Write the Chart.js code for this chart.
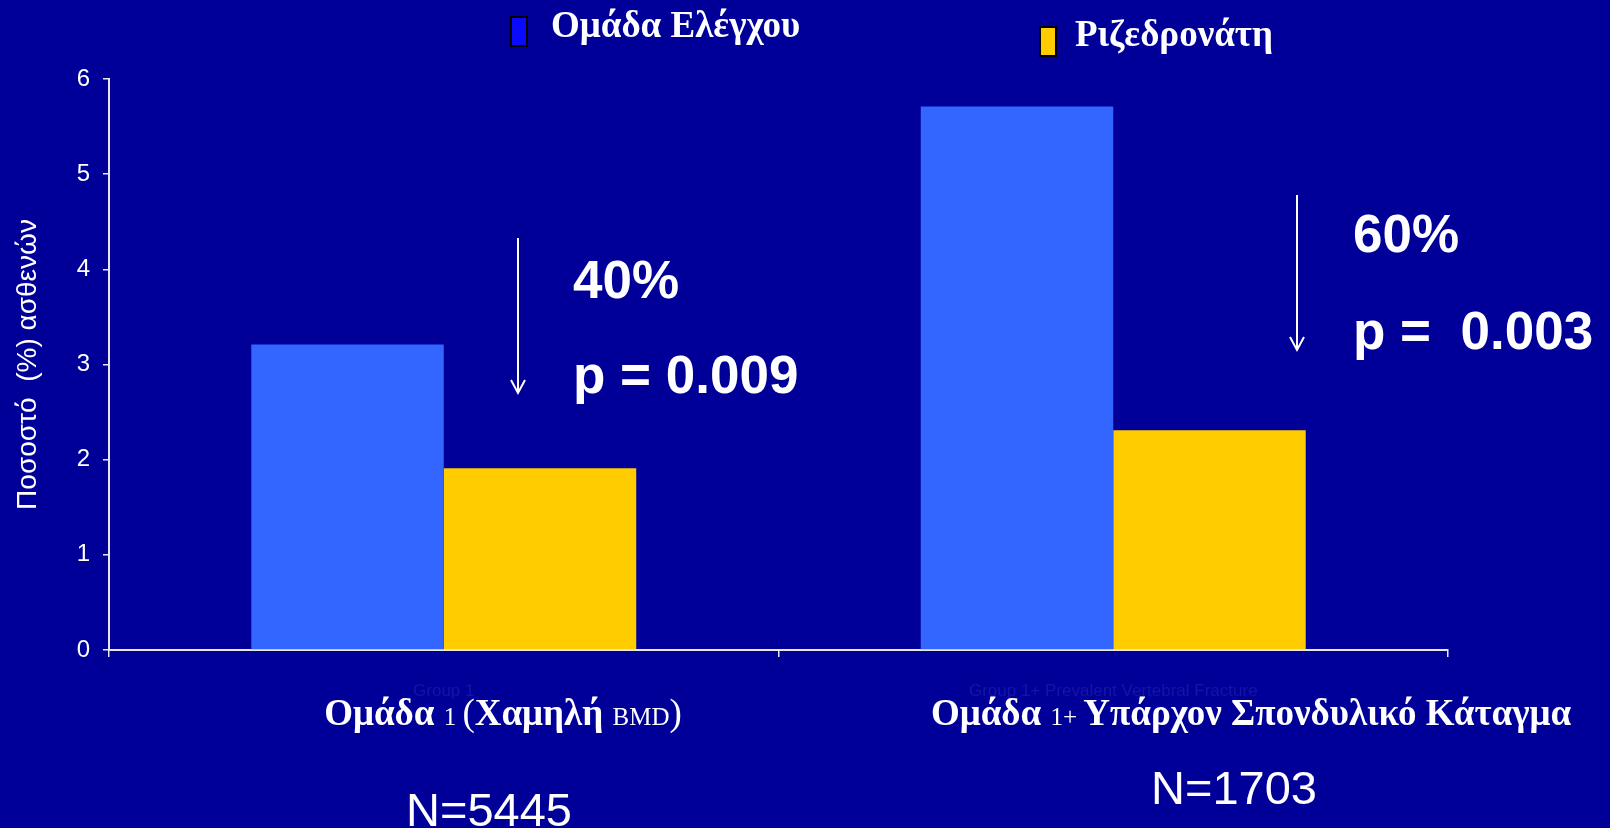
<!DOCTYPE html>
<html>
<head>
<meta charset="utf-8">
<script src="https://cdn.jsdelivr.net/npm/chart.js@4.4.1/dist/chart.umd.min.js"></script>
<style>
  html, body { margin: 0; padding: 0; background: #000099; }
  #chart { display: block; }
</style>
</head>
<body>
<canvas id="chart" width="1610" height="828"></canvas>
<script>
const categories = ['Group 1', 'Group 1+ Prevalent Vertebral Fracture'];
const seriesNames = ['Ομάδα Ελέγχου', 'Ριζεδρονάτη'];
const controlValues = [3.21, 5.71];
const risedronateValues = [1.91, 2.31];
const yTickMax = 6;
const reductionLabels = ['40%', '60%'];
const pLabels = ['p = 0.009', 'p =  0.003'];
const sampleSizes = ['N=5445', 'N=1703'];

const SANS = '"Liberation Sans", Arial, sans-serif';
const SERIF = '"Liberation Serif", "Times New Roman", serif';
const AXIS_COLOR = '#e8e8e8';

// draws a line of text made from pieces of different sizes, centred on x
function richText(ctx, parts, cx, y) {
  let total = 0;
  parts.forEach(p => { ctx.font = p.font; total += ctx.measureText(p.text).width; });
  let x = cx - total / 2;
  ctx.textAlign = 'left';
  parts.forEach(p => {
    ctx.font = p.font;
    ctx.fillText(p.text, x, y);
    x += ctx.measureText(p.text).width;
  });
}

function arrowDown(ctx, x, y1, y2) {
  ctx.beginPath();
  ctx.moveTo(x, y1);
  ctx.lineTo(x, y2);
  ctx.moveTo(x - 7, y2 - 13);
  ctx.lineTo(x, y2);
  ctx.lineTo(x + 7, y2 - 13);
  ctx.stroke();
}

const slideText = {
  id: 'slideText',
  beforeDraw(chart) {
    const ctx = chart.ctx;
    ctx.save();
    ctx.fillStyle = '#000099';
    ctx.fillRect(0, 0, chart.width, chart.height);
    ctx.restore();
  },
  afterDraw(chart) {
    const ctx = chart.ctx;
    ctx.save();
    ctx.fillStyle = '#ffffff';
    ctx.textBaseline = 'alphabetic';

    // legend
    const legendBoxes = [
      { x: 511, y: 17, color: '#0a0aff', tx: 551, ty: 37 },
      { x: 1040, y: 27, color: '#ffcc00', tx: 1075, ty: 46 }
    ];
    legendBoxes.forEach((b, i) => {
      ctx.fillStyle = b.color;
      ctx.fillRect(b.x, b.y, 16, 29);
      ctx.strokeStyle = '#000000';
      ctx.lineWidth = 2;
      ctx.strokeRect(b.x, b.y, 16, 29);
      ctx.fillStyle = '#ffffff';
      ctx.font = 'bold 37px ' + SERIF;
      ctx.textAlign = 'left';
      ctx.fillText(seriesNames[i], b.tx, b.ty);
    });

    // reduction arrows and p values
    ctx.strokeStyle = '#ffffff';
    ctx.lineWidth = 2;
    arrowDown(ctx, 518, 238, 393);
    arrowDown(ctx, 1297, 195, 350);
    ctx.font = 'bold 53px ' + SANS;
    ctx.textAlign = 'left';
    ctx.fillText(reductionLabels[0], 573, 298);
    ctx.fillText(pLabels[0], 573, 393);
    ctx.fillText(reductionLabels[1], 1353, 252);
    ctx.fillText(pLabels[1], 1353, 349);

    // greek group names
    const big = 'bold 37px ' + SERIF;
    const small = '25px ' + SERIF;
    const bigReg = '37px ' + SERIF;
    richText(ctx, [
      { text: 'Ομάδα ', font: big },
      { text: '1 ', font: small },
      { text: '(', font: bigReg },
      { text: 'Χαμηλή ', font: big },
      { text: 'BMD', font: small },
      { text: ')', font: bigReg }
    ], 503, 725);
    richText(ctx, [
      { text: 'Ομάδα ', font: big },
      { text: '1+ ', font: small },
      { text: 'Υπάρχον Σπονδυλικό Κάταγμα', font: big }
    ], 1251, 725);

    // sample sizes
    ctx.font = '47px ' + SANS;
    ctx.textAlign = 'center';
    ctx.fillText(sampleSizes[0], 489, 826);
    ctx.fillText(sampleSizes[1], 1234, 804);
    ctx.restore();
  }
};

const ctx = document.getElementById('chart').getContext('2d');
new Chart(ctx, {
  type: 'bar',
  data: {
    labels: categories,
    datasets: [{
      label: seriesNames[0],
      data: controlValues,
      backgroundColor: '#3366ff',
      borderWidth: 0
    }, {
      label: seriesNames[1],
      data: risedronateValues,
      backgroundColor: '#ffcc00',
      borderWidth: 0
    }]
  },
  options: {
    responsive: false,
    animation: false,
    devicePixelRatio: 1,
    layout: { padding: { top: 79, right: 162, left: 0, bottom: 0 } },
    datasets: {
      bar: { categoryPercentage: 0.575, barPercentage: 1 }
    },
    plugins: {
      legend: { display: false },
      tooltip: { enabled: false }
    },
    scales: {
      x: {
        afterFit(scale) { scale.height = 178; },
        grid: {
          display: true,
          drawOnChartArea: false,
          drawTicks: true,
          tickLength: 7,
          color: AXIS_COLOR,
          lineWidth: 1.5
        },
        border: { color: AXIS_COLOR, width: 2 },
        ticks: {
          color: '#1414a6',
          padding: 24,
          maxRotation: 0,
          font: { family: SANS, size: 17 }
        }
      },
      y: {
        min: 0,
        max: yTickMax,
        afterFit(scale) { scale.width = 109; },
        grid: {
          display: true,
          drawOnChartArea: false,
          drawTicks: true,
          tickLength: 6,
          color: AXIS_COLOR,
          lineWidth: 1.5
        },
        border: { color: AXIS_COLOR, width: 2 },
        ticks: {
          stepSize: 1,
          color: '#ffffff',
          padding: 13,
          font: { family: SANS, size: 24 }
        },
        title: {
          display: true,
          text: 'Ποσοστό  (%) ασθενών',
          color: '#ffffff',
          padding: { top: 11, bottom: 0 },
          font: { family: SANS, size: 28 }
        }
      }
    }
  },
  plugins: [slideText]
});
</script>
</body>
</html>
